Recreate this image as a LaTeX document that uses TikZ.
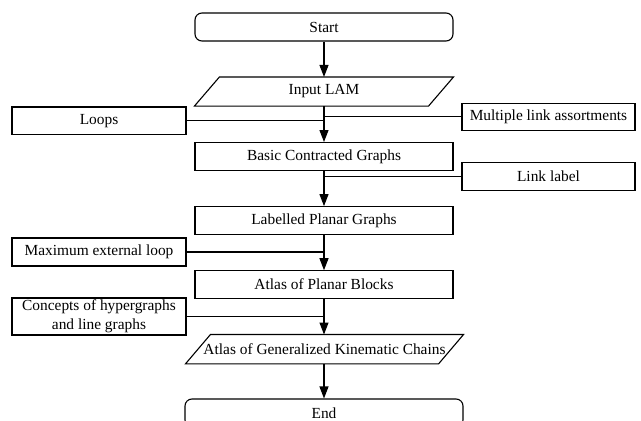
\documentclass[tikz,border=0pt]{standalone}
\usepackage{fontspec}
\setmainfont{Liberation Serif}
\usetikzlibrary{arrows.meta}
\begin{document}
\begin{tikzpicture}[x=1pt,y=-1pt,
  line width=1.1pt,
  every node/.style={inner sep=0pt,font=\fontsize{15.4}{19}\selectfont},
  box/.style={draw,rectangle,minimum height=27.5pt},
  mainbox/.style={box,minimum width=258pt},
  sidebox/.style={box,minimum width=174pt},
  term/.style={draw,rectangle,rounded corners=7pt,minimum height=28pt},
  io/.style={rectangle,minimum height=28pt},
  arr/.style={-{Triangle[length=12pt,width=9pt]}},
]
\useasboundingbox (0,0) rectangle (641,421);
\node[term,minimum width=258pt] (start) at (324,27) {Start};
\node[io,minimum width=258pt] (input) at (324,91.5) {Input LAM};
\draw (input.south west) -- ([xshift=25pt]input.north west) -- (input.north east) -- ([xshift=-25pt]input.south east) -- cycle;
\node[sidebox] (loops) at (99,120.7) {Loops};
\node[sidebox,minimum width=173pt,minimum height=27pt] (mult) at (548.5,116.7) {Multiple link assortments};
\node[mainbox] (basic) at (324,156.3) {Basic Contracted Graphs};
\node[sidebox,minimum width=173pt,minimum height=28pt] (link) at (548.5,176.7) {Link label};
\node[mainbox] (lab) at (324,220.4) {Labelled Planar Graphs};
\node[sidebox,minimum height=28pt] (maxl) at (99,252) {Maximum external loop};
\node[mainbox] (apb) at (324,284.5) {Atlas of Planar Blocks};
\node[sidebox,minimum height=37pt,align=center] (conc) at (99,316.5) {Concepts of hypergraphs\\and line graphs};
\node[io,minimum width=277pt,minimum height=28.3pt] (gkc) at (324.5,349.2) {Atlas of Generalized Kinematic Chains};
\draw (gkc.south west) -- ([xshift=25pt]gkc.north west) -- (gkc.north east) -- ([xshift=-25pt]gkc.south east) -- cycle;
\node[term,minimum width=278pt] (end) at (324,413) {End};
\draw[arr] (start) -- (input);
\draw[arr] (input) -- (basic);
\draw (loops) -- (loops -| basic);
\draw (mult) -- (mult -| basic);
\draw[arr] (basic) -- (lab);
\draw (link) -- (link -| lab);
\draw[arr] (lab) -- (apb);
\draw (maxl) -- (maxl -| apb);
\draw[arr] (apb.south) -- (apb.south |- gkc.north);
\draw (conc) -- (conc -| apb);
\draw[arr] (gkc.south -| apb.south) -- (apb.south |- end.north);
\end{tikzpicture}
\end{document}
